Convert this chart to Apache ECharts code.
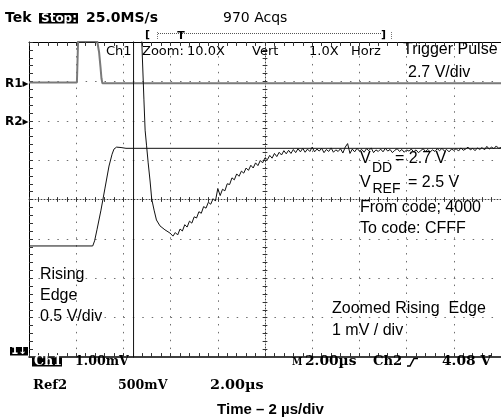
<!DOCTYPE html>
<html>
<head>
<meta charset="utf-8">
<script src="https://cdn.jsdelivr.net/npm/echarts@6/dist/echarts.min.js"></script>
<style>
  html, body { margin: 0; padding: 0; background: #fff; }
  #wrap { position: relative; width: 501px; height: 417px; }
  #graticule, #chart { position: absolute; left: 0; top: 0; width: 501px; height: 417px; }
  #chart { z-index: 1; }
</style>
</head>
<body>
<div id="wrap"><div id="graticule"></div><div id="chart"></div></div>
<script>
// Time base: microseconds relative to the screen centre, 2 µs/div, 10 divisions.
// Vertical values are in screen divisions relative to the centre line.

// R1 reference: trigger pulse (2.7 V/div)
const trigTime = [-10, -7.97, -7.92, -7.11, -7.03, -6.97, -6.93, -6.89, 10];
const trigDiv  = [2.97, 2.97, 4.02, 4.02, 3.74, 3.36, 3.08, 2.95, 2.95];

// Ref2: rising edge of the output (0.5 V/div)
const ref2Time = [-10, -7.30, -7.22, -7.12, -6.95, -6.78, -6.61, -6.48, -6.40, -6.29, -6.10, -5.89, 10];
const ref2Div  = [-1.18, -1.18, -1.05, -0.77, -0.27, 0.29, 0.85, 1.15, 1.28, 1.33, 1.32, 1.30, 1.30];

// Ch1 zoomed settling (1 mV/div): the edge itself, then the sampled tail
const ch1EdgeTime = [-5.57, -5.57, -5.25, -5.22, -5.13, -5.08, -5.02, -4.95, -4.87, -4.80, -4.70, -4.60, -4.45, -4.24, -4.03];
const ch1EdgeDiv  = [-4.5, 4.5, 4.5, 4.0, 2.53, 1.76, 1.38, 0.93, 0.47, 0.01, -0.27, -0.52, -0.67, -0.77, -0.85];
const ch1TailStart = -3.9;   // µs
const ch1TailStep = 0.1;     // µs per sample
const ch1TailDiv = [
  -0.93, -0.84, -0.90, -0.75, -0.80, -0.64, -0.70, -0.55, -0.60, -0.44,
  -0.47, -0.31, -0.35, -0.18, -0.22, -0.07, -0.12, 0.02, -0.04, 0.28,
  0.10, 0.26, 0.22, 0.40, 0.38, 0.55, 0.50, 0.65, 0.59, 0.72,
  0.67, 0.80, 0.74, 0.87, 0.80, 0.93, 0.86, 0.99, 0.93, 1.06,
  1.01, 1.12, 1.05, 1.17, 1.09, 1.20, 1.13, 1.24, 1.16, 1.25,
  1.17, 1.27, 1.19, 1.29, 1.21, 1.30, 1.20, 1.28, 1.22, 1.33,
  1.21, 1.28, 1.23, 1.30, 1.19, 1.27, 1.22, 1.31, 1.20, 1.26,
  1.22, 1.29, 1.18, 1.33, 1.42, 1.17, 1.28, 1.21, 1.30, 1.23,
  1.27, 1.20, 1.29, 1.24, 1.31, 1.19, 1.26, 1.22, 1.28, 1.21,
  1.30, 1.23, 1.27, 1.19, 1.25, 1.29, 1.22, 1.27, 1.20, 1.26,
  1.23, 1.28, 1.21, 1.26, 1.19, 1.24, 1.29, 1.22, 1.27, 1.21,
  1.26, 1.22, 1.29, 1.24, 1.30, 1.23, 1.27, 1.21, 1.28, 1.25,
  1.29, 1.23, 1.31, 1.25, 1.28, 1.33, 1.26, 1.30, 1.24, 1.31,
  1.27, 1.32, 1.26, 1.35, 1.28, 1.33, 1.29, 1.36, 1.30, 1.32
];

const pairs = (xs, ys) => xs.map((x, i) => [x, ys[i]]);
const trigData = pairs(trigTime, trigDiv);
const ref2Data = pairs(ref2Time, ref2Div);
const ch1Data = pairs(ch1EdgeTime, ch1EdgeDiv).concat(
  ch1TailDiv.map((v, i) => [Math.round((ch1TailStart + i * ch1TailStep) * 100) / 100, v])
);

const FT = '"DejaVu Sans", sans-serif';
const FS = '"DejaVu Serif", serif';
const FA = '"Liberation Sans", Arial, sans-serif';

function txt(x, y, s, o) {
  o = o || {};
  return {
    type: 'text', silent: true, z: 20,
    x: x, y: y, scaleX: o.sx || 1,
    style: {
      x: 0, y: 0, text: s,
      fill: o.fill || '#000',
      fontSize: o.size || 16,
      fontFamily: o.family || FA,
      fontWeight: o.weight || 'normal',
      align: o.align || 'left', textAlign: o.align || 'left',
      verticalAlign: 'middle', textVerticalAlign: 'middle'
    }
  };
}
function box(x, y, w, h) {
  return { type: 'rect', silent: true, z: 19, shape: { x: x, y: y, width: w, height: h }, style: { fill: '#000' } };
}
function seg(x1, y1, x2, y2, color, dash) {
  return { type: 'line', silent: true, z: 19, shape: { x1: x1, y1: y1, x2: x2, y2: y2 },
    style: { stroke: color || '#000', lineWidth: 1, lineDash: dash || null } };
}
// readout text in the scope's wide serif face
const ro = (x, y, s, extra) => txt(x, y, s, Object.assign({ family: FS, size: 12, weight: 'bold', sx: 1.2 }, extra || {}));

const gridBox = { left: 29, top: 42, right: 0, bottom: 60, containLabel: false, outerBoundsMode: 'none' };

// ---- graticule layer ----
// dotted division lines (1/5-division dot pitch)
const divLines = [];
for (let i = 1; i < 10; i++) { if (i !== 5) divLines.push({ xAxis: -10 + i * 2, lineStyle: { type: [1.5, 6.38] } }); }
for (let j = 1; j < 8; j++) { if (j !== 4) divLines.push({ yAxis: -4 + j, lineStyle: { type: [1.5, 7.94] } }); }

// minor tick marks on the frame and on both centre lines
const tickMarks = [];
for (let i = 0; i <= 50; i++) {
  const t = Math.round((-10 + i * 0.4) * 100) / 100;
  tickMarks.push([{ coord: [t, 4] }, { coord: [t, 3.9] }]);
  tickMarks.push([{ coord: [t, -4] }, { coord: [t, -3.9] }]);
  tickMarks.push([{ coord: [t, 0.06] }, { coord: [t, -0.06] }]);
}
for (let j = 0; j <= 40; j++) {
  const d = Math.round((-4 + j * 0.2) * 100) / 100;
  tickMarks.push([{ coord: [-10, d] }, { coord: [-9.83, d] }]);
  tickMarks.push([{ coord: [-0.1, d] }, { coord: [0.1, d] }]);
}

function frameAxis(position, onZero, dotted, width) {
  return {
    position: position, axisLabel: { show: false }, splitLine: { show: false }, axisTick: { show: false },
    axisLine: { show: true, onZero: onZero, onZeroAxisIndex: 0,
      lineStyle: { color: dotted ? '#444' : '#000', width: width || 1, type: dotted ? [1, 2] : 'solid' } }
  };
}
const xRange = { type: 'value', min: -10, max: 10 };
const yRange = { type: 'value', min: -4, max: 4 };

const graticuleOption = {
  animation: false,
  grid: gridBox,
  xAxis: [
    Object.assign({}, xRange, { show: false }),
    Object.assign({}, xRange, frameAxis('bottom', false, false, 1.5)),
    Object.assign({}, xRange, frameAxis('top', false, false, 1)),
    Object.assign({}, xRange, frameAxis('bottom', true, true, 1))
  ],
  yAxis: [
    Object.assign({}, yRange, { show: false }),
    Object.assign({}, yRange, frameAxis('left', false, false, 1)),
    Object.assign({}, yRange, frameAxis('left', true, true, 1))
  ],
  series: [
    { type: 'line', data: [[-10, 0], [10, 0]], symbol: 'none', silent: true, lineStyle: { opacity: 0 },
      markLine: { silent: true, animation: false, symbol: ['none', 'none'], label: { show: false },
        lineStyle: { color: '#6e6e6e', width: 1 }, emphasis: { disabled: true }, data: divLines } },
    { type: 'line', data: [[-10, 0], [10, 0]], symbol: 'none', silent: true, lineStyle: { opacity: 0 },
      markLine: { silent: true, animation: false, symbol: ['none', 'none'], label: { show: false },
        lineStyle: { color: '#333', width: 1, type: 'solid' }, emphasis: { disabled: true }, data: tickMarks } }
  ]
};

// ---- traces and screen text on a transparent canvas ----
const option = {
  animation: false,
  backgroundColor: 'transparent',
  grid: gridBox,
  xAxis: { type: 'value', min: -10, max: 10, show: false },
  yAxis: { type: 'value', min: -4, max: 4, show: false },
  series: [
    { name: 'R1', type: 'line', data: trigData, symbol: 'none',
      lineStyle: { color: '#7a7a7a', width: 2 } },
    { name: 'Ref2', type: 'line', data: ref2Data, symbol: 'none',
      lineStyle: { color: '#111', width: 1 } },
    { name: 'Ch1', type: 'line', data: ch1Data, symbol: 'none',
      lineStyle: { color: '#111', width: 1 } }
  ],
  graphic: [
    // status line
    txt(5, 18.5, 'Tek', { family: FT, size: 14, weight: 'bold' }),
    box(39, 13, 39, 10.5),
    txt(41, 18.5, 'Stop:', { family: FT, size: 12, weight: 'bold', fill: '#fff' }),
    txt(86, 18.5, '25.0MS/s', { family: FT, size: 14, weight: 'bold' }),
    txt(223, 18.5, '970 Acqs', { family: FT, size: 14 }),
    // record view bar
    txt(145, 35.5, '[', { family: FT, size: 11, weight: 'bold' }),
    seg(157.5, 32, 157.5, 40, '#777', [1, 1]),
    seg(158, 33.5, 381, 33.5, '#555', [1, 1]),
    txt(181, 36, 'T', { family: FT, size: 11, weight: 'bold', align: 'center' }),
    txt(381, 35.5, ']', { family: FT, size: 11, weight: 'bold' }),
    seg(391.5, 32, 391.5, 40, '#777', [1, 1]),
    // zoom readout
    txt(106, 51.7, 'Ch1', { family: FT, size: 13 }),
    txt(142, 51.7, 'Zoom:', { family: FT, size: 13 }),
    txt(187, 51.7, '10.0X', { family: FT, size: 13 }),
    txt(252, 51.7, 'Vert', { family: FT, size: 13 }),
    txt(309, 51.7, '1.0X', { family: FT, size: 13 }),
    txt(351, 51.7, 'Horz', { family: FT, size: 13 }),
    // reference markers
    txt(5, 83.5, 'R1\u25B8', { family: FT, size: 12, weight: 'bold' }),
    txt(5, 121.5, 'R2\u25B8', { family: FT, size: 12, weight: 'bold' }),
    box(10, 347, 18, 8.5),
    txt(19, 351.3, '1\u2193', { family: FT, size: 10, weight: 'bold', fill: '#fff', align: 'center' }),
    // annotations
    txt(403, 49.5, 'Trigger Pulse'),
    txt(408, 72.5, '2.7 V/div'),
    txt(360, 158.5, 'V'),
    txt(372, 168, 'DD', { size: 14 }),
    txt(395, 158.5, '= 2.7 V'),
    txt(360, 182.5, 'V'),
    txt(372.5, 189, 'REF', { size: 14 }),
    txt(408, 182.5, '= 2.5 V'),
    txt(360, 207.7, 'From code; 4000'),
    txt(360, 229, 'To code: CFFF'),
    txt(40, 274.5, 'Rising'),
    txt(40, 295.5, 'Edge'),
    txt(40, 317, '0.5 V/div'),
    txt(332, 309, 'Zoomed Rising  Edge'),
    txt(332, 330.5, '1 mV / div'),
    // bottom readouts
    box(32, 357.5, 30, 9),
    ro(34, 362, 'Ch1', { fill: '#fff', sx: 1.05 }),
    ro(75, 362, '1.00mV', { sx: 1.05 }),
    ro(292, 362, 'M', { size: 11, sx: 0.85 }),
    ro(305, 362, '2.00\u00B5s', { sx: 1.15 }),
    ro(373, 362, 'Ch2', { sx: 1.1 }),
    { type: 'polyline', silent: true, z: 19, shape: { points: [[407, 366], [410, 366], [414, 358.5], [418, 358.5]] },
      style: { stroke: '#000', lineWidth: 1.5, fill: null } },
    ro(442, 362, '4.08 V', { sx: 1.15 }),
    ro(33, 385.5, 'Ref2', { sx: 1.1 }),
    ro(118, 385.5, '500mV', { sx: 1.05 }),
    ro(210, 385.5, '2.00\u00B5s'),
    // axis caption
    txt(270.5, 409.5, 'Time \u2013 2 \u00B5s/div', { size: 15, weight: 'bold', align: 'center' })
  ]
};

const graticule = echarts.init(document.getElementById('graticule'), null, { width: 501, height: 417 });
graticule.setOption(graticuleOption);
const chart = echarts.init(document.getElementById('chart'), null, { width: 501, height: 417 });
chart.setOption(option);
</script>
</body>
</html>
